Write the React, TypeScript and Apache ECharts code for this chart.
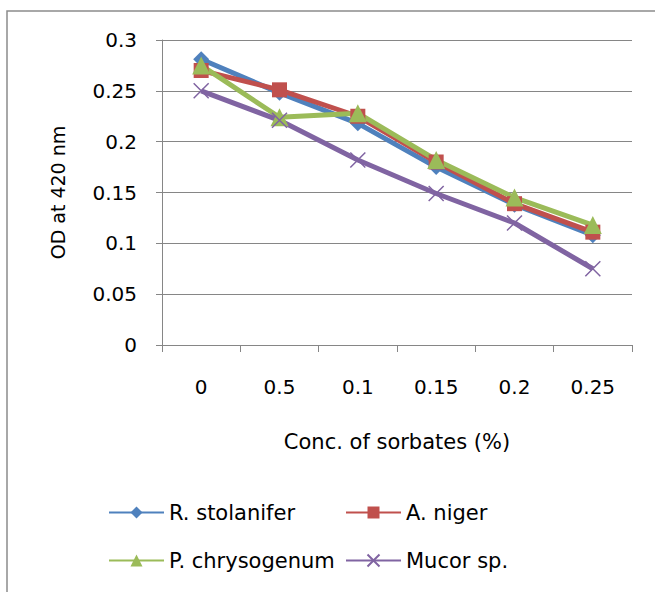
import React, { useEffect, useRef } from "react";
import * as echarts from "echarts";

const categories = ["0", "0.5", "0.1", "0.15", "0.2", "0.25"];
const rStolanifer = [0.281, 0.248, 0.218, 0.175, 0.138, 0.108];
const aNiger = [0.27, 0.251, 0.225, 0.18, 0.139, 0.111];
const pChrysogenum = [0.275, 0.224, 0.228, 0.182, 0.145, 0.118];
const mucor = [0.25, 0.221, 0.182, 0.149, 0.12, 0.075];
const seriesNames = ["R. stolanifer", "A. niger", "P. chrysogenum", "Mucor sp."];

const FONT = "DejaVu Sans";
const GRID_COLOR = "#868686";
const CROSS = "path://M0,0 L10,10 M10,0 L0,10";

export default function App() {
  const ref = useRef<HTMLDivElement>(null);
  useEffect(() => {
    if (!ref.current) return;
    const chart = echarts.init(ref.current, null, { renderer: "svg" });
    const mk = (name: string, data: number[], color: string, symbol: string, size: number, extra: any = {}) => ({
      name,
      type: "line",
      data,
      symbol,
      symbolSize: size,
      lineStyle: { color, width: 5 },
      itemStyle: { color, ...extra },
      emphasis: { disabled: true },
    });
    const legendItem = (name: string, left: number, top: number) => ({
      left,
      top,
      data: [name],
      itemWidth: 55,
      itemHeight: 15,
      textStyle: { fontFamily: FONT, fontSize: 21, color: "#000" },
      selectedMode: false,
    });
    chart.setOption({
      animation: false,
      backgroundColor: "#fff",
      textStyle: { fontFamily: FONT },
      graphic: [
        {
          type: "rect",
          shape: { x: 7, y: 11, width: 800, height: 800 },
          style: { fill: "none", stroke: "#8c8c8c", lineWidth: 1.5 },
          silent: true,
        },
      ],
      grid: { left: 162, top: 40, right: 23, bottom: 247, containLabel: false },
      xAxis: {
        type: "category",
        data: categories,
        boundaryGap: true,
        name: "Conc. of sorbates (%)",
        nameLocation: "middle",
        nameGap: 86,
        nameTextStyle: { fontFamily: FONT, fontSize: 21, color: "#000" },
        axisLine: { lineStyle: { color: GRID_COLOR, width: 1 } },
        axisTick: { show: true, interval: 0, length: 7, lineStyle: { color: GRID_COLOR } },
        axisLabel: { interval: 0, margin: 32, fontFamily: FONT, fontSize: 20, color: "#000" },
        splitLine: { show: false },
      },
      yAxis: {
        type: "value",
        min: 0,
        max: 0.3,
        interval: 0.05,
        name: "OD at 420 nm",
        nameLocation: "middle",
        nameGap: 95,
        nameTextStyle: { fontFamily: FONT, fontSize: 19, color: "#000" },
        axisLine: { show: true, lineStyle: { color: GRID_COLOR, width: 1 } },
        axisTick: { show: true, length: 6, lineStyle: { color: GRID_COLOR } },
        axisLabel: { margin: 25, fontFamily: FONT, fontSize: 20, color: "#000" },
        splitLine: { show: true, lineStyle: { color: GRID_COLOR, width: 1 } },
      },
      legend: [
        legendItem(seriesNames[0], 103, 497),
        legendItem(seriesNames[1], 340, 497),
        legendItem(seriesNames[2], 103, 545),
        legendItem(seriesNames[3], 340, 545),
      ],
      series: [
        mk(seriesNames[0], rStolanifer, "#4F81BD", "diamond", 16),
        mk(seriesNames[1], aNiger, "#C0504D", "rect", 15),
        mk(seriesNames[2], pChrysogenum, "#9BBB59", "triangle", 18),
        mk(seriesNames[3], mucor, "#8064A2", CROSS, 15, { borderColor: "#8064A2", borderWidth: 1.5 }),
      ],
    });
    return () => chart.dispose();
  }, []);
  return (
    <div
      ref={ref}
      style={{ position: "fixed", left: 0, top: 0, width: 655, height: 592, background: "#fff" }}
    />
  );
}
